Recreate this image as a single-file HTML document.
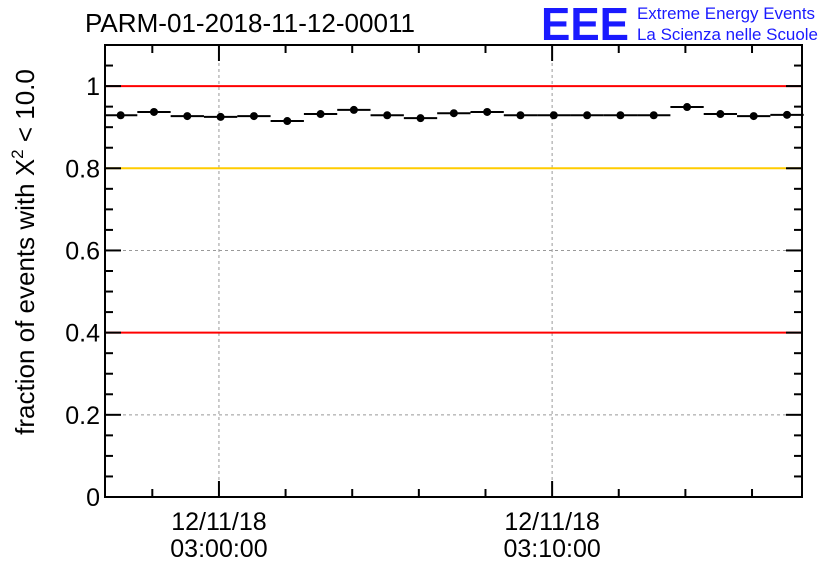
<!DOCTYPE html>
<html><head><meta charset="utf-8"><style>
body{margin:0;background:#fff}
svg{display:block;font-family:"Liberation Sans",sans-serif}
</style></head><body>
<svg id="c" width="836" height="572">
<text x="85" y="32" font-size="26" textLength="330" lengthAdjust="spacingAndGlyphs">PARM-01-2018-11-12-00011</text>
<text x="541" y="40" font-size="46" font-weight="bold" fill="#1a1aff" textLength="88" lengthAdjust="spacingAndGlyphs">EEE</text>
<text x="637" y="19" font-size="17" fill="#1a1aff" textLength="178" lengthAdjust="spacingAndGlyphs">Extreme Energy Events</text>
<text x="637" y="40" font-size="17" fill="#1a1aff" textLength="181" lengthAdjust="spacingAndGlyphs">La Scienza nelle Scuole</text>
<text transform="translate(34,252) rotate(-90)" text-anchor="middle" font-size="26">fraction of events with X<tspan dy="-11" font-size="17">2</tspan><tspan dy="11"> &lt; 10.0</tspan></text>
<g id="grid"></g><g id="refs"></g><g id="marks"></g><g id="axes"></g>
</svg>
<script>
const minutes=[-2.95,-1.95,-0.95,0.05,1.05,2.05,3.05,4.05,5.05,6.05,7.05,8.05,9.05,10.05,11.05,12.05,13.05,14.05,15.05,16.05,17.05];
const fractions=[0.929,0.937,0.927,0.925,0.927,0.915,0.932,0.942,0.929,0.922,0.934,0.937,0.929,0.929,0.929,0.929,0.929,0.949,0.932,0.927,0.930];
const yTicks=[0,0.2,0.4,0.6,0.8,1];
const yTickLabels=["0","0.2","0.4","0.6","0.8","1"];
const xMajor=[0,10];
const xMajorLabels=[["12/11/18","03:00:00"],["12/11/18","03:10:00"]];
const refLines=[1,0.8,0.4];
const refColors=["#ff0000","#ffcc00","#ff0000"];
const L=105,R=802,T=45,B=497,xMin=-3.42,xMax=17.5,yMin=0,yMax=1.1;
const X=m=>L+(m-xMin)/(xMax-xMin)*(R-L);
const Y=v=>B-(v-yMin)/(yMax-yMin)*(B-T);
const NS="http://www.w3.org/2000/svg";
function mk(p,t,a){const e=document.createElementNS(NS,t);for(const k in a)e.setAttribute(k,a[k]);p.appendChild(e);return e;}
const grid=document.getElementById('grid'),refs=document.getElementById('refs'),marks=document.getElementById('marks'),axes=document.getElementById('axes');
yTicks.forEach(v=>{if(v>0&&v<1){const l=mk(grid,'line',{x1:L,x2:R,y1:Y(v),y2:Y(v),stroke:'#999','stroke-dasharray':'3,3'});

}});
xMajor.forEach(m=>{const l=mk(grid,'line',{x1:X(m),x2:X(m),y1:T,y2:B,stroke:'#999','stroke-dasharray':'3,3'});

});
refLines.forEach((v,i)=>{const l=mk(refs,'line',{x1:L,x2:R,y1:Y(v),y2:Y(v),stroke:refColors[i],'stroke-width':2});

});
minutes.forEach((m,i)=>{
const b=mk(marks,'line',{x1:X(m-0.5),x2:X(m+0.5),y1:Y(fractions[i]),y2:Y(fractions[i]),stroke:'#000','stroke-width':2});


const c=mk(marks,'circle',{cx:X(m),cy:Y(fractions[i]),r:4,fill:'#000'});

});
const f=mk(axes,'rect',{x:L,y:T,width:R-L,height:B-T,fill:'none',stroke:'#000','stroke-width':2});


for(let k=0;k<=22;k++){const v=k*0.05;const major=k%4===0;const len=major?16:8;const y=Y(v);
mk(axes,'line',{x1:L,x2:L+len,y1:y,y2:y,stroke:'#000','stroke-width':2});
mk(axes,'line',{x1:R,x2:R-len,y1:y,y2:y,stroke:'#000','stroke-width':2});}
yTicks.forEach((v,i)=>{const t=mk(axes,'text',{x:L-5,y:Y(v)+9,'text-anchor':'end','font-size':25});t.textContent=yTickLabels[i];

});
for(let m=-2;m<=16;m+=2){const major=m%10===0;const len=major?16:8;
mk(axes,'line',{x1:X(m),x2:X(m),y1:B,y2:B-len,stroke:'#000','stroke-width':2});
mk(axes,'line',{x1:X(m),x2:X(m),y1:T,y2:T+len,stroke:'#000','stroke-width':2});}
xMajor.forEach((m,i)=>{xMajorLabels[i].forEach((s,j)=>{const t=mk(axes,'text',{x:X(m),y:530+j*27,'text-anchor':'middle','font-size':25});t.textContent=s;

});});
</script>
</body></html>
